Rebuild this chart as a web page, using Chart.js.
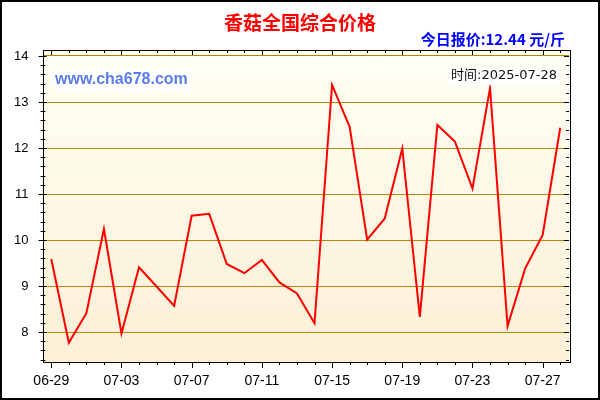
<!DOCTYPE html>
<html>
<head>
<meta charset="utf-8">
<script src="https://cdn.jsdelivr.net/npm/chart.js@4/dist/chart.umd.min.js"></script>
<style>
  body { margin: 0; background: #fff; }
  #wrap { width: 600px; height: 400px; position: relative; }
</style>
</head>
<body>
<div id="wrap"><canvas id="price-chart" width="600" height="400"></canvas></div>
<script>
// data
const dates = ['06-29', '06-30', '07-01', '07-02', '07-03', '07-04', '07-05', '07-06', '07-07', '07-08',
    '07-09', '07-10', '07-11', '07-12', '07-13', '07-14', '07-15', '07-16', '07-17', '07-18',
    '07-19', '07-20', '07-21', '07-22', '07-23', '07-24', '07-25', '07-26', '07-27', '07-28'];
const prices = [9.59, 7.77, 8.41, 10.24, 7.97, 9.41, 8.99, 8.57, 10.53, 10.57,
    9.48, 9.28, 9.57, 9.08, 8.84, 8.19, 13.37, 12.46, 10.01, 10.47,
    11.99, 8.33, 12.5, 12.14, 11.12, 13.3, 8.13, 9.38, 10.11, 12.44];
const yTicks = [8, 9, 10, 11, 12, 13, 14];

const titleText = '香菇全国综合价格';
const todayText = '今日报价:12.44 元/斤';
const siteText = 'www.cha678.com';
const timeText = '时间:2025-07-28';

// background, frame, tick marks and texts
const decor = {
    id: 'decor',
    beforeDraw(chart) {
        const ctx = chart.ctx, a = chart.chartArea;
        ctx.save();
        ctx.fillStyle = '#fff';
        ctx.fillRect(0, 0, chart.width, chart.height);
        const g = ctx.createLinearGradient(0, a.top, 0, a.bottom);
        g.addColorStop(0, '#fffff4');
        g.addColorStop(1, '#fcf0d6');
        ctx.fillStyle = g;
        ctx.fillRect(a.left, a.top, a.right - a.left, a.bottom - a.top);
        ctx.restore();
    },
    afterDraw(chart) {
        const ctx = chart.ctx, a = chart.chartArea;
        const xs = chart.scales.x, ys = chart.scales.y;
        ctx.save();
        ctx.strokeStyle = '#000';
        ctx.lineWidth = 1;
        ctx.beginPath();
        // x ticks: bottom outward, top inward
        for (let i = 0; i < dates.length; i++) {
            const x = Math.round(xs.getPixelForValue(i)) + 0.5;
            const major = i % 4 === 0;
            ctx.moveTo(x, a.bottom);
            ctx.lineTo(x, a.bottom + (major ? 6 : 3));
            ctx.moveTo(x, a.top);
            ctx.lineTo(x, a.top + (major ? 5 : 3));
        }
        // y ticks every 0.2
        for (let k = 0; k <= 35; k++) {
            const v = 7.4 + k * 0.2;
            const y = ys.getPixelForValue(v);
            if (y < a.top + 1 || y > a.bottom - 1) continue;
            const yy = Math.round(y) + 0.5;
            const major = Math.abs(v - Math.round(v)) < 0.01;
            ctx.moveTo(a.left - (major ? 4 : 2), yy);
            ctx.lineTo(a.left + (major ? 4 : 3), yy);
            ctx.moveTo(a.right, yy);
            ctx.lineTo(a.right - (major ? 5 : 3), yy);
        }
        ctx.stroke();
        ctx.strokeRect(Math.round(a.left) + 0.5, Math.round(a.top) + 0.5,
            Math.round(a.right - a.left), Math.round(a.bottom - a.top));
        ctx.lineWidth = 2;
        ctx.strokeRect(1, 1, chart.width - 2, chart.height - 2);

        // title and today's price
        ctx.textBaseline = 'middle';
        ctx.textAlign = 'center';
        ctx.fillStyle = '#ff0000';
        ctx.font = 'bold 19px "Noto Sans CJK SC", sans-serif';
        ctx.fillText(titleText, 300, 23);
        ctx.textAlign = 'right';
        ctx.fillStyle = '#0000ff';
        ctx.font = 'bold 15px "Noto Sans CJK SC", sans-serif';
        ctx.fillText(todayText, 565, 39);

        // site label with white box
        ctx.font = 'bold 16px "Liberation Sans", Arial, sans-serif';
        ctx.textAlign = 'left';
        const sw = ctx.measureText(siteText).width;
        ctx.fillStyle = '#ffffff';
        ctx.fillRect(53, 70, sw + 4, 20);
        ctx.fillStyle = '#5b7bf0';
        ctx.fillText(siteText, 55, 80);

        // time label
        ctx.font = '13px "DejaVu Sans", "Noto Sans CJK SC", sans-serif';
        ctx.textAlign = 'right';
        const tw = ctx.measureText(timeText).width;
        ctx.fillStyle = '#ffffff';
        ctx.fillRect(557 - tw - 2, 67, tw + 4, 18);
        ctx.fillStyle = '#111';
        ctx.fillText(timeText, 557, 76);
        ctx.restore();
    }
};

new Chart(document.getElementById('price-chart').getContext('2d'), {
    type: 'line',
    data: {
        labels: dates,
        datasets: [{
            data: prices,
            borderColor: '#ff0000',
            borderWidth: 2,
            pointRadius: 0,
            fill: false,
            tension: 0
        }]
    },
    options: {
        responsive: false,
        animation: false,
        events: [],
        layout: { padding: { top: 50, right: 31, left: 0, bottom: 0 } },
        plugins: { legend: { display: false }, tooltip: { enabled: false } },
        scales: {
            x: {
                type: 'category',
                offset: true,
                grid: { display: false, drawTicks: false },
                border: { display: false },
                afterFit(scale) { scale.height = 38; },
                ticks: {
                    autoSkip: false,
                    maxRotation: 0,
                    padding: 11,
                    color: '#000',
                    font: { family: '"Liberation Sans", Arial, sans-serif', size: 14 },
                    callback: function(val, i) { return i % 4 === 0 ? dates[i] : ''; }
                }
            },
            y: {
                min: 7.35,
                max: 14.13,
                afterBuildTicks(scale) { scale.ticks = yTicks.map(v => ({ value: v })); },
                afterFit(scale) { scale.width = 42.5; },
                grid: { color: '#b8860b', lineWidth: 1, drawTicks: false },
                border: { display: false },
                ticks: {
                    padding: 14,
                    color: '#000',
                    font: { family: '"Liberation Sans", Arial, sans-serif', size: 13 }
                }
            }
        }
    },
    plugins: [decor]
});
</script>
</body>
</html>
